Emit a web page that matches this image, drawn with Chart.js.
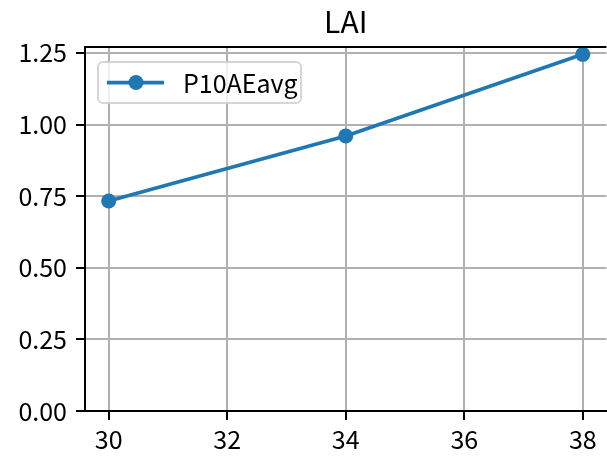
<!DOCTYPE html>
<html>
<head>
<meta charset="utf-8">
<script src="https://cdn.jsdelivr.net/npm/chart.js@4"></script>
<style>
  html, body { margin: 0; padding: 0; background: #fff; overflow: hidden; }
  #wrap { width: 614px; height: 456px; }
</style>
</head>
<body>
<div id="wrap"><canvas id="laiChart" width="614" height="456"></canvas></div>
<script>
// data
const days = [30, 34, 38];
const laiValues = [0.733, 0.960, 1.245];
const xTicks = [30, 32, 34, 36, 38];
const yTicks = [0, 0.25, 0.5, 0.75, 1.0, 1.25];
const seriesName = 'P10AEavg';
const chartTitle = 'LAI';

const FONT = "'Liberation Sans Narrow', 'Noto Sans CJK JP', sans-serif";
const BLUE = '#1f77b4';

// matplotlib style margins (5%)
const xPad = (xTicks[xTicks.length - 1] - xTicks[0]) * 0.05;
const yMax = Math.max(...laiValues);
const yPad = (yMax - Math.min(...laiValues)) * 0.05;

// top spine + title + legend box, matplotlib look
const mplDecor = {
    id: 'mplDecor',
    afterDraw(chart) {
        const ctx = chart.ctx;
        const a = chart.chartArea;
        ctx.save();
        // top spine
        ctx.strokeStyle = '#000';
        ctx.lineWidth = 2;
        ctx.beginPath();
        ctx.moveTo(a.left - 1, a.top);
        ctx.lineTo(a.right, a.top);
        ctx.stroke();

        // title over the axes
        ctx.fillStyle = '#000';
        ctx.font = '30px ' + FONT;
        ctx.textAlign = 'center';
        ctx.textBaseline = 'middle';
        ctx.fillText(chartTitle, (a.left + a.right) / 2, 22);

        // legend
        const bx = a.left + 13, by = a.top + 15, bw = 203, bh = 41, r = 5;
        ctx.beginPath();
        ctx.moveTo(bx + r, by);
        ctx.arcTo(bx + bw, by, bx + bw, by + bh, r);
        ctx.arcTo(bx + bw, by + bh, bx, by + bh, r);
        ctx.arcTo(bx, by + bh, bx, by, r);
        ctx.arcTo(bx, by, bx + bw, by, r);
        ctx.closePath();
        ctx.fillStyle = 'rgba(255,255,255,0.8)';
        ctx.fill();
        ctx.strokeStyle = 'rgba(204,204,204,0.8)';
        ctx.lineWidth = 2;
        ctx.stroke();

        const ly = by + bh / 2;
        ctx.strokeStyle = BLUE;
        ctx.lineWidth = 3.75;
        ctx.beginPath();
        ctx.moveTo(bx + 9, ly);
        ctx.lineTo(bx + 66, ly);
        ctx.stroke();
        ctx.fillStyle = BLUE;
        ctx.beginPath();
        ctx.arc(bx + 38, ly, 7.5, 0, Math.PI * 2);
        ctx.fill();

        ctx.fillStyle = '#000';
        ctx.font = '25px ' + FONT;
        ctx.textAlign = 'left';
        ctx.fillText(seriesName, bx + 85, ly + 1);
        ctx.restore();
    }
};

const ctx = document.getElementById('laiChart').getContext('2d');
const laiChart = new Chart(ctx, {
    type: 'line',
    data: {
        datasets: [{
            label: seriesName,
            data: days.map((d, i) => ({ x: d, y: laiValues[i] })),
            borderColor: BLUE,
            backgroundColor: BLUE,
            borderWidth: 3.75,
            pointRadius: 7.5,
            pointHoverRadius: 7.5,
            pointBorderWidth: 0,
            tension: 0,
            clip: false
        }]
    },
    options: {
        responsive: false,
        animation: false,
        layout: { padding: { top: 47, right: 4, left: 0, bottom: 0 } },
        plugins: {
            legend: { display: false },
            title: { display: false },
            tooltip: { enabled: false }
        },
        scales: {
            x: {
                type: 'linear',
                min: xTicks[0] - xPad,
                max: xTicks[xTicks.length - 1] + xPad,
                afterBuildTicks: s => { s.ticks = xTicks.map(v => ({ value: v })); },
                afterFit: s => { s.height = 45; },
                grid: {
                    color: '#b0b0b0',
                    lineWidth: 2,
                    tickColor: '#000',
                    tickWidth: 2,
                    tickLength: 9
                },
                border: { color: '#000', width: 2 },
                ticks: {
                    color: '#000',
                    padding: 4,
                    maxRotation: 0,
                    font: { family: FONT, size: 25 },
                    callback: v => String(v)
                }
            },
            y: {
                min: 0,
                max: yMax + yPad,
                afterBuildTicks: s => { s.ticks = yTicks.map(v => ({ value: v })); },
                afterFit: s => { s.width = 85; },
                grid: {
                    color: '#b0b0b0',
                    lineWidth: 2,
                    tickColor: '#000',
                    tickWidth: 2,
                    tickLength: 9
                },
                border: { color: '#000', width: 2 },
                ticks: {
                    color: '#000',
                    padding: 9,
                    font: { family: FONT, size: 25 },
                    callback: v => Number(v).toFixed(2)
                }
            }
        }
    },
    plugins: [mplDecor]
});
</script>
</body>
</html>
